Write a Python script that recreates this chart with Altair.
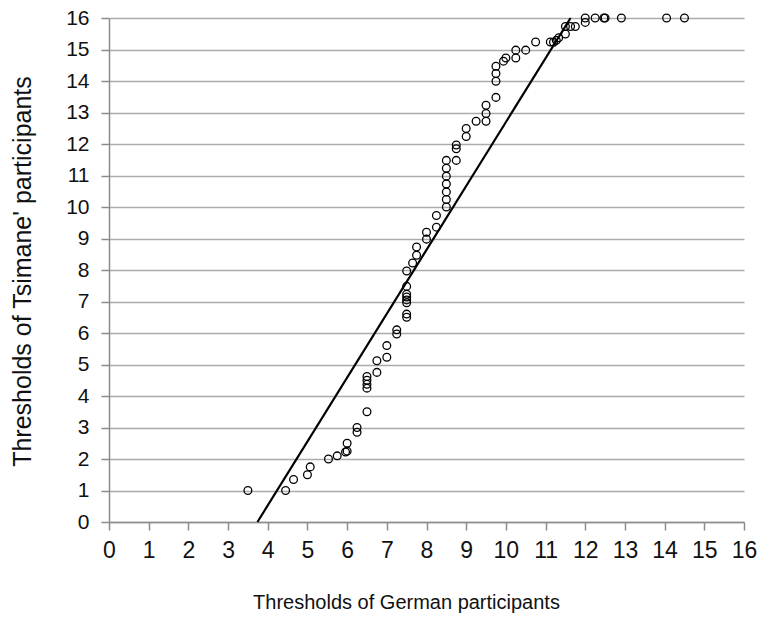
import altair as alt
import pandas as pd

german = [3.5, 4.45, 4.65, 5.0, 5.07, 5.53, 5.75, 5.96, 6.0, 6.0, 6.25, 6.25, 6.5, 6.5, 6.5, 6.5, 6.5,
          6.75, 6.75, 7.0, 7.0, 7.25, 7.25, 7.5, 7.5, 7.5, 7.5, 7.5, 7.5, 7.5, 7.5,
          7.65, 7.75, 7.75, 8.0, 8.0, 8.25, 8.25, 8.5, 8.5, 8.5, 8.5, 8.5, 8.5, 8.5,
          8.75, 8.75, 8.75, 9.0, 9.0, 9.25, 9.5, 9.5, 9.5, 9.75, 9.75, 9.75, 9.75,
          9.94, 10.0, 10.25, 10.25, 10.5, 10.75, 11.12, 11.2, 11.27, 11.33, 11.5, 11.5,
          11.63, 11.75, 12.0, 12.0, 12.25, 12.47, 12.5, 12.91, 14.05, 14.5]
tsimane = [1.0, 1.0, 1.35, 1.5, 1.75, 2.0, 2.1, 2.22, 2.25, 2.5, 2.85, 3.0, 3.5, 4.25, 4.37, 4.5, 4.62,
           4.75, 5.12, 5.23, 5.6, 5.97, 6.1, 6.5, 6.6, 6.96, 7.05, 7.14, 7.23, 7.48, 7.97,
           8.22, 8.47, 8.73, 8.98, 9.2, 9.36, 9.73, 10.0, 10.24, 10.48, 10.73, 10.98, 11.23, 11.48,
           11.48, 11.85, 11.97, 12.24, 12.49, 12.72, 12.72, 12.97, 13.23, 13.48, 13.99, 14.24, 14.47,
           14.63, 14.73, 14.73, 14.98, 14.98, 15.24, 15.24, 15.23, 15.29, 15.37, 15.49, 15.73,
           15.73, 15.73, 15.86, 16.0, 16.0, 16.0, 16.0, 16.0, 16.0, 16.0]

fit_x = [3.74, 11.63]
fit_y = [0.0, 16.0]

ticks = list(range(0, 17))

pts = pd.DataFrame({"g": german, "t": tsimane})
fit = pd.DataFrame({"g": fit_x, "t": fit_y})

FONT = "Liberation Sans"

xscale = alt.Scale(domain=[0, 16], nice=False, zero=False)
yscale = alt.Scale(domain=[0, 16], nice=False, zero=False)

xaxis = alt.Axis(values=ticks, grid=False, title="Thresholds of German participants",
                 labelFontSize=23, titleFontSize=20, labelFont=FONT, titleFont=FONT,
                 labelColor="#111111", titleColor="#111111", titleFontWeight="normal",
                 domainColor="#8c8c8c", tickColor="#8c8c8c", tickSize=8, labelPadding=9,
                 domainWidth=1.5, tickWidth=1.5, titleX=297, titleY=80,
                 titleBaseline="middle", labelFlush=False, labelOverlap=False)
yaxis = alt.Axis(values=ticks, grid=True, gridColor="#ababab", gridWidth=1.5,
                 title="Thresholds of Tsimane' participants",
                 labelFontSize=21, titleFontSize=25, labelFont=FONT, titleFont=FONT,
                 labelColor="#111111", titleColor="#111111", titleFontWeight="normal",
                 domainColor="#8c8c8c", tickColor="#8c8c8c", tickSize=8, labelPadding=12,
                 domainWidth=1.5, tickWidth=1.5, titleX=-87, titleY=253,
                 titleBaseline="middle", labelFlush=False, labelOverlap=False)

points = alt.Chart(pts).mark_point(shape="circle", filled=False, color="black",
                                   size=60, strokeWidth=1.3, opacity=1).encode(
    x=alt.X("g:Q", scale=xscale, axis=xaxis),
    y=alt.Y("t:Q", scale=yscale, axis=yaxis),
)

line = alt.Chart(fit).mark_line(color="black", strokeWidth=2.2).encode(
    x=alt.X("g:Q", scale=xscale, axis=xaxis),
    y=alt.Y("t:Q", scale=yscale, axis=yaxis),
)

chart = alt.layer(points, line).properties(
    width=635, height=504,
    autosize=alt.AutoSizeParams(type="none"),
    padding={"left": 101, "top": 10, "right": 13, "bottom": 110},
    background="white",
).configure_view(stroke=None)

chart.save("out.html", embed_options={"renderer": "svg", "actions": False})
